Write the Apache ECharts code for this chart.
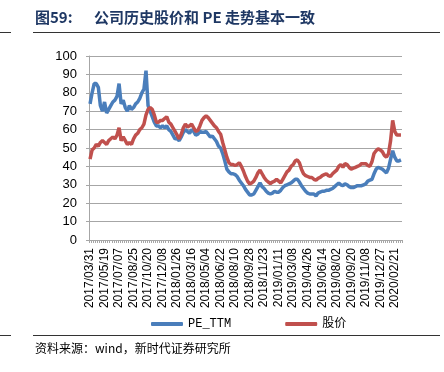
<!DOCTYPE html>
<html>
<head>
<meta charset="utf-8">
<script src="https://cdn.jsdelivr.net/npm/echarts@6/dist/echarts.min.js"></script>
<style>
html,body{margin:0;padding:0;background:#fff;}
#c{width:444px;height:372px;}
</style>
</head>
<body>
<div id="c"></div>
<script>
const dates = [
'2017/03/31','2017/04/07','2017/04/14','2017/04/21','2017/04/28','2017/05/05','2017/05/12','2017/05/19','2017/05/26','2017/06/02',
'2017/06/09','2017/06/16','2017/06/23','2017/06/30','2017/07/07','2017/07/14','2017/07/21','2017/07/28','2017/08/04','2017/08/11',
'2017/08/18','2017/08/25','2017/09/01','2017/09/08','2017/09/15','2017/09/22','2017/09/29','2017/10/13','2017/10/20','2017/10/27',
'2017/11/03','2017/11/10','2017/11/17','2017/11/24','2017/12/01','2017/12/08','2017/12/15','2017/12/22','2017/12/29','2018/01/05',
'2018/01/12','2018/01/19','2018/01/26','2018/02/02','2018/02/09','2018/02/14','2018/02/23','2018/03/02','2018/03/09','2018/03/16',
'2018/03/23','2018/03/30','2018/04/04','2018/04/13','2018/04/20','2018/04/27','2018/05/04','2018/05/11','2018/05/18','2018/05/25',
'2018/06/01','2018/06/08','2018/06/15','2018/06/22','2018/06/29','2018/07/06','2018/07/13','2018/07/20','2018/07/27','2018/08/03',
'2018/08/10','2018/08/17','2018/08/24','2018/08/31','2018/09/07','2018/09/14','2018/09/21','2018/09/28','2018/10/12','2018/10/19',
'2018/10/26','2018/11/02','2018/11/09','2018/11/16','2018/11/23','2018/11/30','2018/12/07','2018/12/14','2018/12/21','2018/12/28',
'2019/01/04','2019/01/11','2019/01/18','2019/01/25','2019/02/01','2019/02/15','2019/02/22','2019/03/01','2019/03/08','2019/03/15',
'2019/03/22','2019/03/29','2019/04/04','2019/04/12','2019/04/19','2019/04/26','2019/04/30','2019/05/10','2019/05/17','2019/05/24',
'2019/05/31','2019/06/06','2019/06/14','2019/06/21','2019/06/28','2019/07/05','2019/07/12','2019/07/19','2019/07/26','2019/08/02',
'2019/08/09','2019/08/16','2019/08/23','2019/08/30','2019/09/06','2019/09/12','2019/09/20','2019/09/27','2019/09/30','2019/10/11',
'2019/10/18','2019/10/25','2019/11/01','2019/11/08','2019/11/15','2019/11/22','2019/11/29','2019/12/06','2019/12/13','2019/12/20',
'2019/12/27','2020/01/03','2020/01/10','2020/01/17','2020/01/23','2020/02/07','2020/02/14','2020/02/21','2020/02/28','2020/03/06',
'2020/03/13'
];

const peTTM = [
74,80,85,85,83,73,70,75,69,71,
73,75,76,78,85,74,76,72,70,73,
71,72,74,75,77,80,82,92,73,70,
67,64,62,62,61,62,61,62,60,59,
57,55,55,54,56,58.5,60,59,58,60,
59,57,57.5,59,58.5,58.5,59,57.5,56,56.5,
55,53.5,51,50,47,43,38.5,37,36,36,
35.5,34.5,32.5,31,29.5,27.5,26,24.5,24.5,25,
27,29,31,29,28,26.5,25.5,25,25.5,26.5,
26,26,27,28.5,29.5,30,30.5,31,32,33,
33,31.5,29.5,28,26.5,25.5,25,25,25,24,
25.5,26,26.5,26.5,27,27,27.5,28,29,30,
31,30,29.5,30.5,30,29,28.5,28.5,29,29.5,
29.5,29.5,30,30.5,32,32.5,33,36,38.5,39.5,
39,38.5,37.5,36.5,39,44,48.5,45,43,43,
43.5
];

const price = [
44,49,50,52,51,53,54,53,52,54,
55,56,55,57,61,54,56,54,52,53,
52,55,57,58,60,61,63,68,71,72,
71,68,64,64,65,65,66,67,64,63,
61,59,57,55,57.5,61,63,61.5,62,63,
61,59,59.5,62,65,66.5,67.5,66.5,65,63.5,
62,61,59,57.5,53,49,45,42,41,41,
40.5,41,42,40,37.5,34.5,32,30.5,31,32,
34,36.5,38,36,34,32.5,31.5,30.7,31.5,32,
33,32,31,33,35,37,38,40,41,43,
43.5,42,38.5,36,35,34.5,34,34,33,32.5,
33.5,34,35,35.5,36,35,34.5,36,37,38,
40,41,39.5,41.5,41,39.5,38.5,39,39.5,40,
40.5,41.5,41.5,41.5,40.5,40,42.5,47,48.5,49.5,
49,48,46,45,47,54,65,59,57,57,
57
];

const yTicks = [0,10,20,30,40,50,60,70,80,90,100];
const seriesNames = ['PE_TTM','股价'];

const chart = echarts.init(document.getElementById('c'), null, {renderer:'canvas'});
chart.setOption({
  animation:false,
  backgroundColor:'#fff',
  grid:{left:89, right:42, top:56, bottom:132, containLabel:false},
  legend:{
    data:seriesNames,
    left:146, top:313,
    icon:'roundRect', itemWidth:32, itemHeight:4, itemGap:54,
    textStyle:{fontFamily:'Liberation Mono, Noto Sans CJK SC', fontSize:12, color:'#000'}
  },
  xAxis:{
    type:'category', data:dates, boundaryGap:true,
    axisLine:{lineStyle:{color:'#a6a6a6', width:1}},
    axisTick:{show:true, interval:0, length:3, lineStyle:{color:'#a6a6a6'}},
    axisLabel:{interval:6, hideOverlap:false, rotate:90, fontSize:12, fontFamily:'Liberation Sans, Arial', color:'#000', margin:8}
  },
  yAxis:{
    type:'value', min:yTicks[0], max:yTicks[yTicks.length-1], interval:10,
    axisLine:{show:true, lineStyle:{color:'#a6a6a6'}},
    axisTick:{show:true, length:3, lineStyle:{color:'#a6a6a6'}},
    axisLabel:{fontSize:13, fontFamily:'Liberation Sans, Arial', color:'#000', margin:12},
    splitLine:{lineStyle:{color:'#a6a6a6', width:1}}
  },
  series:[
    {name:seriesNames[0], type:'line', data:peTTM, showSymbol:false, symbol:'none',
     lineStyle:{color:'#4a7ebb', width:3.5}, itemStyle:{color:'#4a7ebb'}},
    {name:seriesNames[1], type:'line', data:price, showSymbol:false, symbol:'none',
     lineStyle:{color:'#c0504d', width:3.5}, itemStyle:{color:'#c0504d'}}
  ],
  graphic:[
    {type:'text', left:35, top:10, style:{text:'图59:', font:'bold 15px "Noto Sans CJK SC"', fill:'#1f3864'}},
    {type:'text', left:94, top:10, style:{text:'公司历史股价和 PE 走势基本一致', font:'bold 15px "Noto Sans CJK SC"', fill:'#1f3864'}},
    {type:'line', shape:{x1:33, y1:32.5, x2:440, y2:32.5}, style:{stroke:'#333', lineWidth:1}},
    {type:'line', shape:{x1:0, y1:32.5, x2:11, y2:32.5}, style:{stroke:'#333', lineWidth:1}},
    {type:'line', shape:{x1:33, y1:335.5, x2:440, y2:335.5}, style:{stroke:'#333', lineWidth:1}},
    {type:'line', shape:{x1:0, y1:335.5, x2:11, y2:335.5}, style:{stroke:'#333', lineWidth:1}},
    {type:'text', left:35, top:342, style:{text:'资料来源：wind，新时代证券研究所', font:'12px "Noto Sans CJK SC"', fill:'#000'}}
  ]
});
</script>
</body>
</html>
